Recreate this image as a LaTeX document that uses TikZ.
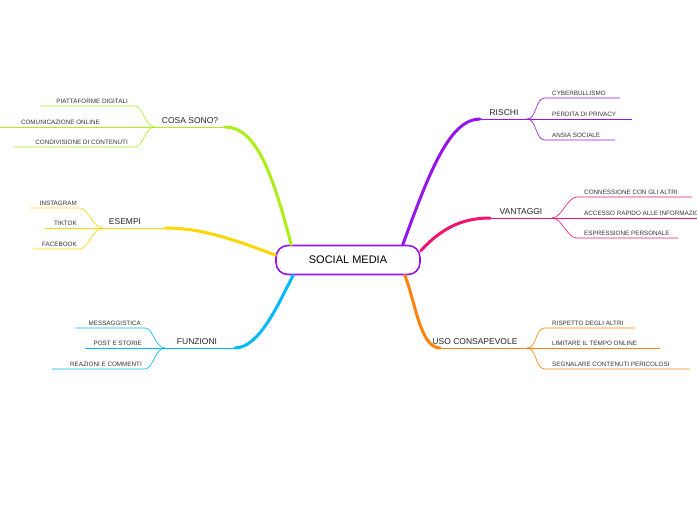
\documentclass[tikz,border=0pt]{standalone}
\usepackage{fontspec}
\setmainfont{Liberation Sans}
\definecolor{cgreen}{RGB}{170,240,20}
\definecolor{cyellow}{RGB}{255,215,0}
\definecolor{ccyan}{RGB}{0,185,250}
\definecolor{cpurple}{RGB}{150,20,240}
\definecolor{cpink}{RGB}{240,20,110}
\definecolor{corange}{RGB}{255,130,10}
\tikzset{
    leaf/.style={inner sep=1pt, font=\fontsize{6.3}{7}\selectfont, text=black!80},
    topic/.style={inner sep=1pt, font=\fontsize{8.5}{10}\selectfont, text=black!85},
    branch/.style={line width=3pt, line cap=round},
    twig/.style={line width=0.6pt}
}
\begin{document}
\begin{tikzpicture}[x=1pt,y=-1pt]
        \useasboundingbox (0,0) rectangle (697,520);

        % centre
        \node (root) [draw=cpurple, line width=1.6pt, rounded corners=12pt, minimum width=144pt, minimum height=29pt, font=\fontsize{11}{13}\selectfont] at (348,260) {SOCIAL MEDIA};

        % main branches
        \coordinate (fa) at (155,127);
        \coordinate (fb) at (103,228);
        \coordinate (fc) at (165,348);
        \coordinate (fd) at (527,119);
        \coordinate (fe) at (552,218);
        \coordinate (ff) at (527,348);

        \draw [branch, cgreen] (root.north west) ++(16,0) .. controls (272,170) and (255,127) .. (225,127);
        \draw [twig, cgreen] (225,127) -- (fa);
        \draw [branch, cyellow] (root.west) ++(0,-5) .. controls (230,238) and (200,228) .. (165,228);
        \draw [twig, cyellow] (165,228) -- (fb);
        \draw [branch, ccyan] (root.south west) ++(18,0) .. controls (280,300) and (260,348) .. (235,348);
        \draw [twig, ccyan] (235,348) -- (fc);
        \draw [branch, cpurple] (root.north east) ++(-18,0) .. controls (430,170) and (450,119) .. (480,119);
        \draw [twig, cpurple] (480,119) -- (fd);
        \draw [branch, cpink] (root.north east) ++(0,6) .. controls (440,230) and (460,218) .. (490,218);
        \draw [twig, cpink] (490,218) -- (fe);
        \draw [branch, corange] (root.south east) ++(-16,0) .. controls (415,300) and (420,348) .. (440,348);
        \draw [twig, corange] (440,348) -- (ff);

        \node (ta) [topic, anchor=south] at (190,125) {COSA SONO?};
        \node (tb) [topic, anchor=south] at (125,226) {ESEMPI};
        \node (tc) [topic, anchor=south] at (197,346) {FUNZIONI};
        \node (td) [topic, anchor=south] at (504,117) {RISCHI};
        \node (te) [topic, anchor=south] at (521,216) {VANTAGGI};
        \node (tf) [topic, anchor=south] at (475,346) {USO CONSAPEVOLE};

        % left leaves
        \foreach \c/\f/\dy/\xs/\xe/\xt/\t/\n in {
            cgreen/fa/21/135/40/129/PIATTAFORME DIGITALI/a1,
            cgreen/fa/0/155/0/101/COMUNICAZIONE ONLINE/a2,
            cgreen/fa/-20/135/13/129/CONDIVISIONE DI CONTENUTI/a3,
            cyellow/fb/20/80/30/78/INSTAGRAM/b1,
            cyellow/fb/0/103/45/78/TIKTOK/b2,
            cyellow/fb/-21/80/33/78/FACEBOOK/b3,
            ccyan/fc/20/145/75/142/MESSAGGISTICA/c1,
            ccyan/fc/0/165/85/143/POST E STORIE/c2,
            ccyan/fc/-21/145/52/143/REAZIONI E COMMENTI/c3}{
            \coordinate (\n s) at ([yshift=\dy]\f -| \xs,0);
            \coordinate (\n e) at ([yshift=\dy]\f -| \xe,0);
            \ifnum\dy=0
                \draw [twig, draw=\c] (\f) -- (\n e);
            \else
                \draw [twig, draw=\c] (\f) .. controls ([xshift=-10]\f) and ([xshift=8]\n s) .. (\n s) -- (\n e);
            \fi
            \node (\n) [leaf, anchor=south east] at ([yshift=1]\n s -| \xt,0) {\t};
        }

        % right leaves
        \foreach \c/\f/\dy/\xs/\xe/\t/\n in {
            cpurple/fd/21/545/620/CYBERBULLISMO/d1,
            cpurple/fd/0/545/632/PERDITA DI PRIVACY/d2,
            cpurple/fd/-21/545/615/ANSIA SOCIALE/d3,
            cpink/fe/21/577/692/CONNESSIONE CON GLI ALTRI/e1,
            cpink/fe/0/577/697/ACCESSO RAPIDO ALLE INFORMAZIONI/e2,
            cpink/fe/-20/577/678/ESPRESSIONE PERSONALE/e3,
            corange/ff/20/545/635/RISPETTO DEGLI ALTRI/f1,
            corange/ff/0/545/660/LIMITARE IL TEMPO ONLINE/f2,
            corange/ff/-21/545/690/SEGNALARE CONTENUTI PERICOLOSI/f3}{
            \coordinate (\n s) at ([yshift=\dy]\f -| \xs,0);
            \coordinate (\n e) at ([yshift=\dy]\f -| \xe,0);
            \ifnum\dy=0
                \draw [twig, draw=\c] (\f) -- (\n e);
            \else
                \draw [twig, draw=\c] (\f) .. controls ([xshift=10]\f) and ([xshift=-10]\n s) .. (\n s) -- (\n e);
            \fi
            \node (\n) [leaf, anchor=south west] at ([xshift=6,yshift=1]\n s) {\t};
        }
    \end{tikzpicture}
\end{document}
